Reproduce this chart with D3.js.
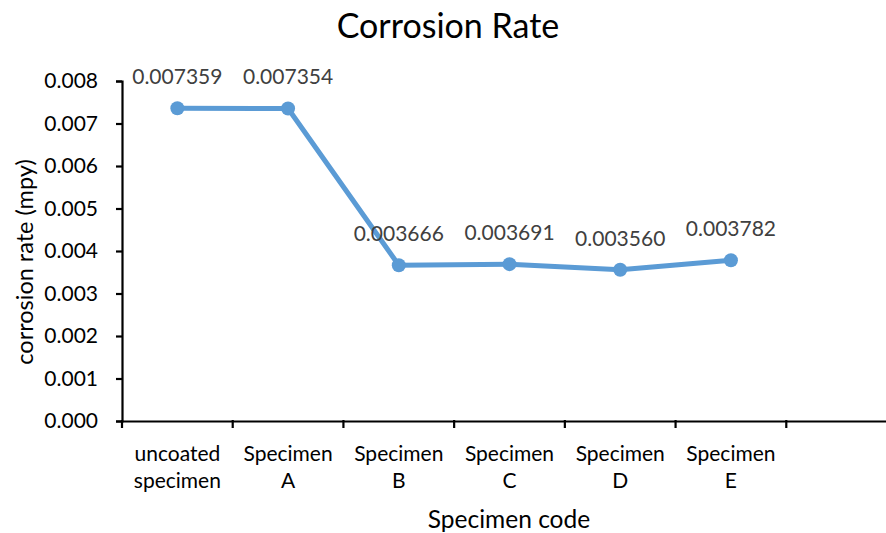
<!DOCTYPE html>
<html>
<head>
<meta charset="utf-8">
<script src="https://cdn.jsdelivr.net/npm/d3@7"></script>
<style>
  body { margin: 0; background: #fff; }
  text { font-family: Lato, "Open Sans", sans-serif; }
</style>
</head>
<body>
<div id="chart"></div>
<script>
// Chart data
const categories = ['uncoated specimen', 'Specimen A', 'Specimen B', 'Specimen C', 'Specimen D', 'Specimen E', ''];
const rates = [0.007359, 0.007354, 0.003666, 0.003691, 0.003560, 0.003782];
const rateLabels = ['0.007359', '0.007354', '0.003666', '0.003691', '0.003560', '0.003782'];
const yTicks = [0, 0.001, 0.002, 0.003, 0.004, 0.005, 0.006, 0.007, 0.008];

const width = 886, height = 533;
const svg = d3.select('#chart').append('svg')
    .attr('width', width)
    .attr('height', height);

const x = d3.scaleBand().domain(categories).range([122, 897]).padding(0);
const y = d3.scaleLinear().domain([0, 0.008]).range([421, 81]);

// Title
svg.append('text')
    .attr('x', 448).attr('y', 38)
    .attr('text-anchor', 'middle')
    .attr('font-size', 34)
    .text('Corrosion Rate');

// Y axis
const yAxis = svg.append('g')
    .attr('transform', 'translate(122,0)')
    .call(d3.axisLeft(y).tickValues(yTicks).tickFormat(d3.format('.3f')).tickSize(6).tickSizeOuter(6));
yAxis.select('.domain').attr('stroke', '#000').attr('stroke-width', 2.2);
yAxis.selectAll('.tick line').attr('stroke', '#000').attr('stroke-width', 2.2);
yAxis.selectAll('.tick text')
    .attr('font-size', 21)
    .attr('font-family', 'Lato, sans-serif')
    .attr('fill', '#000')
    .attr('x', -24);

// X axis
const xAxis = svg.append('g')
    .attr('transform', 'translate(0,421)')
    .call(d3.axisBottom(x).tickSize(0).tickSizeOuter(0).tickFormat(''));
xAxis.select('.domain').attr('stroke', '#000').attr('stroke-width', 2.2);
xAxis.selectAll('.tick line').remove();

// tick marks at band boundaries
const bounds = categories.map(c => x(c));
svg.append('g').selectAll('line')
    .data(bounds)
    .enter().append('line')
    .attr('x1', d => d).attr('x2', d => d)
    .attr('y1', 420).attr('y2', 428)
    .attr('stroke', '#000').attr('stroke-width', 2.2);

// category labels, two lines
const catLabels = svg.append('g').selectAll('text')
    .data(categories.slice(0, 6))
    .enter().append('text')
    .attr('text-anchor', 'middle')
    .attr('font-size', 21)
    .attr('fill', '#000')
    .attr('transform', d => `translate(${x(d) + x.bandwidth() / 2},461)`);
catLabels.each(function(d) {
    const parts = d.split(' ');
    const t = d3.select(this);
    t.append('tspan').attr('x', 0).attr('dy', 0).text(parts[0]);
    t.append('tspan').attr('x', 0).attr('dy', 27).text(parts[1]);
});

// Axis titles
svg.append('text')
    .attr('x', 509).attr('y', 528)
    .attr('text-anchor', 'middle')
    .attr('font-size', 24.5)
    .text('Specimen code');

svg.append('text')
    .attr('transform', 'translate(33,262) rotate(-90)')
    .attr('text-anchor', 'middle')
    .attr('font-size', 23.5)
    .text('corrosion rate (mpy)');

// Line
const cx = i => x(categories[i]) + x.bandwidth() / 2;
const line = d3.line()
    .x((d, i) => cx(i))
    .y(d => y(d));

svg.append('path')
    .datum(rates)
    .attr('d', line)
    .attr('fill', 'none')
    .attr('stroke', '#5b9bd5')
    .attr('stroke-width', 5)
    .attr('stroke-linejoin', 'round');

svg.append('g').selectAll('circle')
    .data(rates)
    .enter().append('circle')
    .attr('cx', (d, i) => cx(i))
    .attr('cy', d => y(d))
    .attr('r', 7)
    .attr('fill', '#5b9bd5');

// Data labels
svg.append('g').selectAll('text')
    .data(rates)
    .enter().append('text')
    .attr('x', (d, i) => cx(i))
    .attr('y', d => y(d) - 24)
    .attr('text-anchor', 'middle')
    .attr('font-size', 21)
    .attr('fill', '#404040')
    .text((d, i) => rateLabels[i]);
</script>
</body>
</html>
